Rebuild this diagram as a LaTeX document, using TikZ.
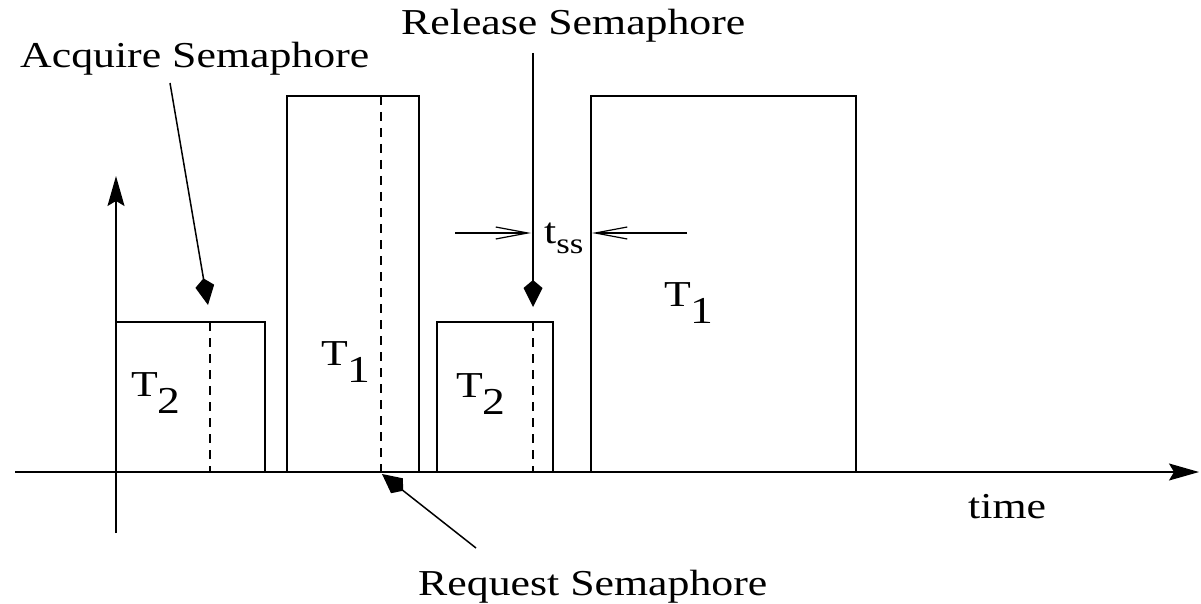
\documentclass[tikz,border=0pt]{standalone}
\usepackage{fontspec}
\setmainfont{Liberation Serif}[FakeStretch=1.2]
\usetikzlibrary{arrows.meta}
\begin{document}
\begin{tikzpicture}[x=1pt,y=-1pt,
  ln/.style={line width=1.5pt},
  box/.style={ln,draw=black},
  dsh/.style={line width=1.7pt,dash pattern=on 9pt off 7pt},
  lbl/.style={inner sep=0pt,anchor=base west,font=\fontsize{36.5}{42}\selectfont},
  fhead/.style={-{Kite[length=27pt,width=19pt,inset=8pt]}},
  axhead/.style={-{Stealth[length=30pt,width=17pt,inset=5pt]}},
  bhead/.style={-{Straight Barb[length=32pt,width=12pt,line width=1.2pt]}}]
\useasboundingbox (0,0) rectangle (1201,604);
% axes
\coordinate (xs) at (15,472);
\coordinate (xe) at (1199,472);
\coordinate (ys) at (116,533);
\coordinate (ye) at (116,176);
\draw[ln,axhead] (xs) -- (xe);
\draw[ln,axhead] (ys) -- (ye);
% boxes
\draw[box] (116,472) rectangle (265,322);
\draw[box] (287,472) rectangle (419,96);
\draw[box] (437,472) rectangle (553,322);
\draw[box] (591,472) rectangle (856,96);
% dashed lines
\draw[dsh] (210,322) -- (210,472);
\draw[dsh] (381,96) -- (381,472);
\draw[dsh] (533,322) -- (533,472);
% task labels
\node[lbl] (t2a) at (131,396) {T\raisebox{-17pt}{\fontsize{38}{38}\selectfont 2}};
\node[lbl] (t1a) at (321,365) {T\raisebox{-17pt}{\fontsize{38}{38}\selectfont 1}};
\node[lbl] (t2b) at (456,397) {T\raisebox{-17pt}{\fontsize{38}{38}\selectfont 2}};
\node[lbl] (t1b) at (664,306) {T\raisebox{-17pt}{\fontsize{38}{38}\selectfont 1}};
% text labels
\node[lbl] (acq) at (20,68) {Acquire Semaphore};
\node[lbl] (rel) at (401,35) {Release Semaphore};
\node[lbl] (req) at (418,595) {Request Semaphore};
\node[lbl] (time) at (968,518) {time};
\node[lbl] (tss) at (544,243) {t\raisebox{-10pt}{\fontsize{29}{29}\selectfont ss}};
% pointer arrows
\coordinate (acqS) at (170,83);
\coordinate (acqT) at (208,305);
\coordinate (relS) at (533,53);
\coordinate (relT) at (533,307);
\coordinate (reqS) at (476,548);
\coordinate (reqT) at (382,474);
\draw[ln,fhead] (acqS) -- (acqT);
\draw[ln,fhead] (relS) -- (relT);
\draw[ln,fhead] (reqS) -- (reqT);
% t_ss arrows
\coordinate (tl1) at (455,233);
\coordinate (tl2) at (531,233);
\coordinate (tr1) at (687,233);
\coordinate (tr2) at (592,233);
\draw[ln,bhead] (tl1) -- (tl2);
\draw[ln,bhead] (tr1) -- (tr2);
\end{tikzpicture}
\end{document}
